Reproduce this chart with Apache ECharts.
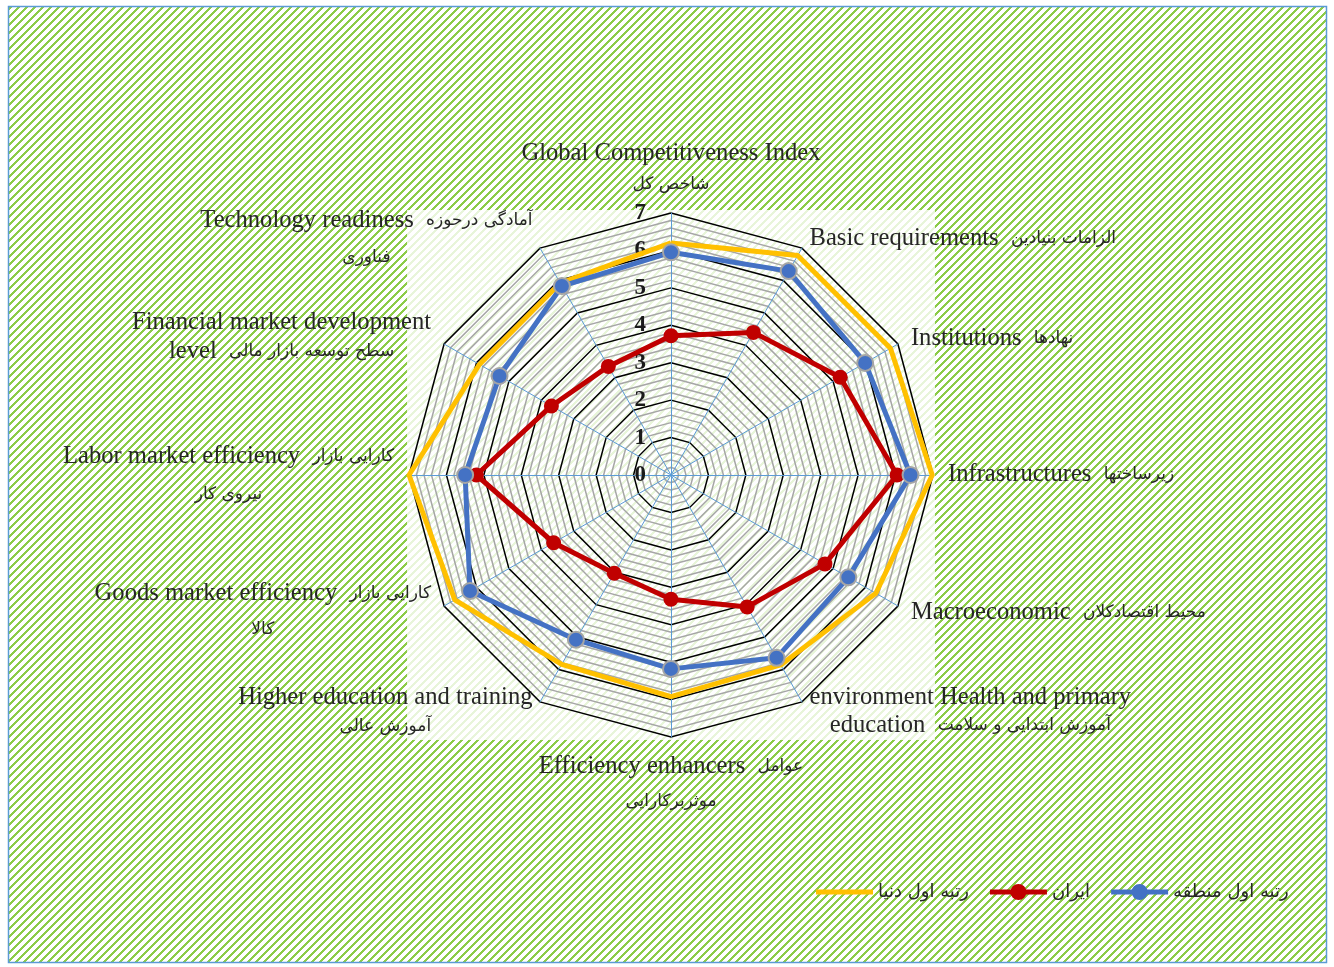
<!DOCTYPE html>
<html>
<head>
<meta charset="utf-8">
<script src="https://cdn.jsdelivr.net/npm/echarts@6/dist/echarts.min.js"></script>
<style>
html,body{margin:0;padding:0;background:#ffffff;}
#chart{width:1334px;height:967px;}
</style>
</head>
<body>
<div id="chart"></div>
<script>
// ---------- DATA (clockwise from top) ----------
const categories = [
  'Global Competitiveness Index\nشاخص کل',
  'Basic requirements  الزامات بنیادین',
  'Institutions  نهادها',
  'Infrastructures  زیرساختها',
  'Macroeconomic  محیط اقتصادکلان',
  'environment Health and primary\neducation  آموزش ابتدایی و سلامت',
  'Efficiency enhancers  عوامل\nموثربرکارایی',
  'Higher education and training\nآموزش عالی',
  'Goods market efficiency  کارایی بازار\nکالا',
  'Labor market efficiency  کارایی بازار\nنیروی کار',
  'Financial market development\nlevel  سطح توسعه بازار مالی',
  'Technology readiness  آمادگی درحوزه\nفناوری'
];
const axisMin = 0;
const axisMax = 7;
const tickLabels = ['0', '1', '2', '3', '4', '5', '6', '7'];
const seriesNames = ['رتبه اول دنیا', 'ایران', 'رتبه اول منطقه'];
const worldFirst  = [6.20, 6.77, 6.77, 6.98, 6.32, 5.86, 5.92, 5.84, 6.67, 7.00, 5.91, 5.92];
const iran        = [3.72, 4.40, 5.22, 6.04, 4.75, 4.07, 3.32, 3.03, 3.62, 5.20, 3.69, 3.35];
const regionFirst = [5.95, 6.29, 5.99, 6.40, 5.47, 5.64, 5.18, 5.08, 6.20, 5.50, 5.29, 5.83];

// ---------- STYLE (label line heights / vertical nudges, per category) ----------
const nameLineHeights = [[36, 26], [30], [30], [30], [30], [22, 34], [30, 40], [24, 34], [33, 39], [40, 36], [31, 27], [44, 30]];
const nameShift = [0, 3, 2, 0, -1, 0, 0, 0, 0, 0, 0, 0];
const colors = { world: '#FFC000', iran: '#C00000', region: '#4472C4' };
const textColor = '#262626';
const enFont = { fontFamily: 'Liberation Serif', fontSize: 24.6 };
const faFont = { fontFamily: 'DejaVu Sans', fontSize: 17 };

// ECharts radar runs counter-clockwise; reorder so the picture reads clockwise
const order = [0].concat(categories.map((_, i) => i).slice(1).reverse());
const reorder = arr => order.map(i => arr[i]);

// hatch pattern (upward diagonal stripes)
function makeHatch() {
  const c = document.createElement('canvas');
  c.width = 8; c.height = 8;
  const ctx = c.getContext('2d');
  const img = ctx.createImageData(8, 8);
  for (let y = 0; y < 8; y++) {
    for (let x = 0; x < 8; x++) {
      const k = (y * 8 + x) * 4;
      const on = ((x + y) % 8) < 3;
      img.data[k]     = on ? 0x8C : 255;
      img.data[k + 1] = on ? 0xCC : 255;
      img.data[k + 2] = on ? 0x48 : 255;
      img.data[k + 3] = 255;
    }
  }
  ctx.putImageData(img, 0, 0);
  return c;
}

const rich = {};
function styleName(isFa, lh, shift) {
  const key = (isFa ? 'fa' : 'en') + '_' + lh + '_' + (shift + 10);
  if (!rich[key]) {
    const st = Object.assign({ lineHeight: lh, color: textColor, align: 'center' }, isFa ? faFont : enFont);
    if (shift > 0) st.padding = [2 * shift, 0, 0, 0];
    if (shift < 0) st.padding = [0, 0, -2 * shift, 0];
    rich[key] = st;
  }
  return key;
}
const runRe = /[\u0600-\u06FF\u200C]+(?:\s+[\u0600-\u06FF\u200C]+)*|[^\u0600-\u06FF\u200C]+/g;
const formatted = {};
categories.forEach((name, idx) => {
  formatted[name] = name.split('\n').map((line, li) => {
    const lh = nameLineHeights[idx][li];
    return (line.match(runRe) || []).map(p => {
      const isFa = /[\u0600-\u06FF]/.test(p);
      return '{' + styleName(isFa, lh, nameShift[idx]) + '|' + p + '}';
    }).join('');
  }).join('\n');
});

const indicator = reorder(categories).map((n, i) => {
  const o = { name: n, min: axisMin, max: axisMax };
  if (i === 0) o.axisLabel = { show: true };
  return o;
});

const chart = echarts.init(document.getElementById('chart'), null, { renderer: 'canvas' });
const hatch = makeHatch();

const lineDot = 'path://M0,5.5L21,5.5L21,10.5L0,10.5Z M36,5.5L57,5.5L57,10.5L36,10.5Z M20.5,8A8,8 0 1 1 36.5,8A8,8 0 1 1 20.5,8Z';
const lineOnly = 'path://M0,5.5L57,5.5L57,10.5L0,10.5Z M0,0L0.01,0L0,0.01Z M0,16L0.01,16L0,15.99Z';

const option = {
  animation: false,
  backgroundColor: '#ffffff',
  graphic: {
    elements: [
      { type: 'rect', z: -20, silent: true,
        shape: { x: 8.5, y: 6.5, width: 1318, height: 956 },
        style: { fill: { image: hatch, repeat: 'repeat' }, stroke: '#5B9BD5', lineWidth: 1.5 } },
      { type: 'rect', z: -19, silent: true,
        shape: { x: 407, y: 210, width: 528, height: 530 },
        style: { fill: 'rgba(255,255,255,0.8)' } }
    ]
  },
  legend: {
    left: 811, top: 878,
    itemWidth: 57, itemHeight: 16, itemGap: 21,
    itemStyle: { borderWidth: 0 },
    textStyle: { fontFamily: 'DejaVu Sans', fontSize: 18, color: textColor },
    data: [
      { name: seriesNames[0], icon: lineOnly },
      { name: seriesNames[1], icon: lineDot },
      { name: seriesNames[2], icon: lineDot }
    ]
  },
  radar: {
    center: [671, 475],
    radius: 262,
    startAngle: 90,
    shape: 'polygon',
    splitNumber: 35,
    nameGap: 15,
    indicator: indicator,
    axisName: {
      color: textColor,
      fontFamily: enFont.fontFamily,
      fontSize: enFont.fontSize,
      formatter: function (name) { return formatted[name] || name; },
      rich: rich
    },
    axisLine: { show: true, lineStyle: { color: '#5B9BD5', width: 1 } },
    axisTick: { show: false },
    axisLabel: {
      show: false,
      margin: 25,
      fontFamily: 'Liberation Serif',
      fontWeight: 'bold',
      fontSize: 23,
      color: '#1a1a1a',
      formatter: function (v) {
        const r = Math.round(v);
        return Math.abs(v - r) < 1e-6 ? tickLabels[r - axisMin] : '';
      }
    },
    splitLine: {
      lineStyle: {
        color: ['#000000', '#A6A6A6', '#A6A6A6', '#A6A6A6', '#A6A6A6'],
        width: 1.5
      }
    },
    splitArea: { show: false }
  },
  series: [{
    type: 'radar',
    z: 3,
    data: [
      { name: seriesNames[0], value: reorder(worldFirst), symbol: 'none',
        lineStyle: { color: colors.world, width: 5 }, itemStyle: { color: colors.world } },
      { name: seriesNames[1], value: reorder(iran), symbol: 'circle', symbolSize: 15,
        lineStyle: { color: colors.iran, width: 5 }, itemStyle: { color: colors.iran } },
      { name: seriesNames[2], value: reorder(regionFirst), symbol: 'circle', symbolSize: 16,
        lineStyle: { color: colors.region, width: 5 }, itemStyle: { color: colors.region, borderColor: '#A5A5A5', borderWidth: 2 } }
    ]
  }]
};
chart.setOption(option);
</script>
</body>
</html>
